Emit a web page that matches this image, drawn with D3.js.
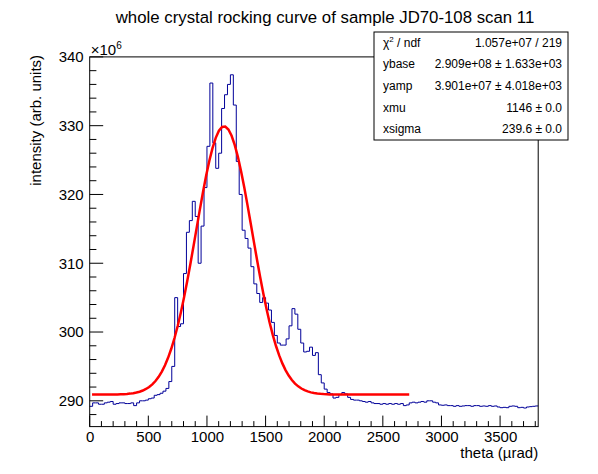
<!DOCTYPE html>
<html>
<head>
<meta charset="utf-8">
<script src="https://cdn.jsdelivr.net/npm/d3@7"></script>
<style>
  body { margin: 0; background: #fff; }
  svg { display: block; }
  text { font-family: "Liberation Sans", Arial, Helvetica, sans-serif; fill: #000; }
</style>
</head>
<body>
<div id="chart"></div>
<script>
// histogram: bin lower edges in µrad (bin width 25), intensity in units of 1e6
const binWidth = 25;
const binStart = d3.range(0, 3825, binWidth);
const intensity = [
  289.2, 289.7, 289.7, 289.5, 289.5, 289.7, 289.8, 289.9, 289.5, 289.6,
  289.7, 289.7, 289.6, 289.6, 289.7, 289.3, 289.7, 290.0, 290.0, 290.1,
  290.3, 290.4, 290.8, 290.9, 291.1, 291.4, 291.8, 292.8, 295.0, 305.0,
  300.8, 301.2, 308.5, 314.5, 316.2, 319.0, 316.8, 310.0, 315.4, 321.0,
  327.0, 336.2, 327.5, 323.8, 326.0, 332.5, 334.5, 336.0, 337.4, 333.0,
  324.8, 320.0, 314.8, 313.6, 312.2, 309.5, 307.0, 305.6, 304.3, 305.0,
  304.2, 303.2, 301.4, 299.5, 298.4, 298.1, 298.1, 299.0, 300.9, 303.4,
  302.6, 300.4, 298.4, 297.1, 297.2, 297.8, 296.6, 297.0, 293.8, 292.6,
  291.7, 291.2, 291.0, 290.4, 290.5, 290.9, 291.2, 291.0, 290.5, 290.2,
  290.1, 290.1, 290.0, 289.9, 289.8, 289.9, 289.7, 289.6, 289.6, 289.5,
  289.6, 289.5, 289.6, 289.5, 289.6, 289.5, 289.6, 289.3, 289.4, 289.7,
  289.8, 289.7, 289.8, 289.9, 289.8, 290.0, 290.0, 289.8, 289.7, 289.4,
  289.35, 289.4, 289.3, 289.3, 289.2, 289.3, 289.2, 289.25, 289.3, 289.3,
  289.2, 289.3, 289.3, 289.2, 289.25, 289.2, 289.3, 289.2, 289.25, 289.1,
  289.0, 289.05, 289.0, 289.2, 289.25, 289.2, 289.0, 289.05, 288.95, 289.1,
  289.15, 289.2, 289.25
];

// fit result (gaussian on a flat base), as printed in the stats box
const ybase = 290.9, yamp = 39.01, xmu = 1146, xsigma = 239.6;
const fitRange = [20, 2725];
const statsRows = [
  ["chi", "1.057e+07 / 219"],
  ["ybase", "2.909e+08 \u00b1 1.633e+03"],
  ["yamp", "3.901e+07 \u00b1 4.018e+03"],
  ["xmu", "1146 \u00b1 0.0"],
  ["xsigma", "239.6 \u00b1 0.0"]
];

const xTicks = [0, 500, 1000, 1500, 2000, 2500, 3000, 3500];
const yTicks = [290, 300, 310, 320, 330, 340];

let width = 598, height = 474;
let margin = ({ top: 56.9, right: 59.8, bottom: 47.4, left: 89.7 });

let x = d3.scaleLinear()
    .domain([0, 3825])
    .range([margin.left, width - margin.right]);

let y = d3.scaleLinear()
    .domain([286.25, 340])
    .range([height - margin.bottom, margin.top]);

let svg = d3.select("#chart")
    .append("svg")
    .attr("width", width)
    .attr("height", height);

// title
svg.append("text")
    .attr("x", 325)
    .attr("y", 23)
    .attr("text-anchor", "middle")
    .style("font-size", "16.8px")
    .text("whole crystal rocking curve of sample JD70-108 scan 11");

// histogram as steps
let histPts = binStart.map((b, i) => [b, intensity[i]]);
histPts.push([3825, intensity[intensity.length - 1]]);

svg.append("path")
    .datum(histPts)
    .attr("fill", "none")
    .attr("stroke", "#000099")
    .attr("stroke-width", 1)
    .attr("d", d3.line()
        .x(d => x(d[0]))
        .y(d => y(d[1]))
        .curve(d3.curveStepAfter));

// fitted function
let fitX = d3.range(101).map(i => fitRange[0] + i * (fitRange[1] - fitRange[0]) / 100);
svg.append("path")
    .datum(fitX)
    .attr("fill", "none")
    .attr("stroke", "#ff0000")
    .attr("stroke-width", 2.5)
    .attr("d", d3.line()
        .x(d => x(d))
        .y(d => y(ybase + yamp * Math.exp(-0.5 * Math.pow((d - xmu) / xsigma, 2)))));

// frame
svg.append("rect")
    .attr("x", x(0))
    .attr("y", y(340))
    .attr("width", x(3825) - x(0))
    .attr("height", y(286.25) - y(340))
    .attr("fill", "none")
    .attr("stroke", "#000")
    .attr("stroke-width", 1);

// x axis, ticks pointing up into the frame
let xAxis = g => g
    .attr("transform", `translate(0,${y(286.25)})`)
    .call(d3.axisBottom(x).tickValues(xTicks).tickSize(0).tickPadding(5).tickFormat(d3.format("d")))
    .call(g => g.select(".domain").remove())
    .call(g => g.selectAll("text").style("font-size", "15px").attr("font-family", null));

svg.append("g").call(xAxis);

let xt = svg.append("g").attr("stroke", "#000").attr("stroke-width", 1);
d3.range(0, 3825, 100).forEach(v => {
    let len = v % 500 === 0 ? 11 : 5.5;
    xt.append("line")
        .attr("x1", x(v)).attr("x2", x(v))
        .attr("y1", y(286.25)).attr("y2", y(286.25) - len);
});

// y axis, ticks pointing right into the frame
let yAxis = g => g
    .attr("transform", `translate(${x(0)},0)`)
    .call(d3.axisLeft(y).tickValues(yTicks).tickSize(0).tickPadding(6).tickFormat(d3.format("d")))
    .call(g => g.select(".domain").remove())
    .call(g => g.selectAll("text").style("font-size", "15px").attr("font-family", null));

svg.append("g").call(yAxis);

let yt = svg.append("g").attr("stroke", "#000").attr("stroke-width", 1);
d3.range(288, 341, 2).forEach(v => {
    let len = v % 10 === 0 ? 13.5 : 6.7;
    yt.append("line")
        .attr("x1", x(0)).attr("x2", x(0) + len)
        .attr("y1", y(v)).attr("y2", y(v));
});

// x10^6 exponent
let expo = svg.append("text")
    .attr("x", x(0) + 1)
    .attr("y", y(340) - 2)
    .style("font-size", "15px");
expo.append("tspan").text("\u00d710");
expo.append("tspan").attr("dy", -6).style("font-size", "10px").text("6");

// axis titles
svg.append("text")
    .attr("x", x(3825))
    .attr("y", 458)
    .attr("text-anchor", "end")
    .style("font-size", "15px")
    .text("theta (\u00b5rad)");

svg.append("text")
    .attr("transform", `translate(41,${y(340) - 2}) rotate(-90)`)
    .attr("text-anchor", "end")
    .style("font-size", "15px")
    .text("intensity (arb. units)");

// stats box
let box = { x0: 374, y0: 32, x1: 568, y1: 140 };
svg.append("rect")
    .attr("x", box.x0).attr("y", box.y0)
    .attr("width", box.x1 - box.x0).attr("height", box.y1 - box.y0)
    .attr("fill", "#fff").attr("stroke", "#000").attr("stroke-width", 1);

let rowH = (box.y1 - box.y0) / statsRows.length;
statsRows.forEach((r, i) => {
    let cy = box.y0 + rowH * (i + 0.5) + 4;
    let lab = svg.append("text")
        .attr("x", box.x0 + 9)
        .attr("y", cy)
        .style("font-size", "12px");
    if (r[0] === "chi") {
        lab.append("tspan").text("\u03c7");
        lab.append("tspan").attr("dy", -5).style("font-size", "8px").text("2");
        lab.append("tspan").attr("dy", 5).text(" / ndf");
    } else {
        lab.text(r[0]);
    }
    svg.append("text")
        .attr("x", box.x1 - 6)
        .attr("y", cy)
        .attr("text-anchor", "end")
        .style("font-size", "12px")
        .text(r[1]);
});
</script>
</body>
</html>
